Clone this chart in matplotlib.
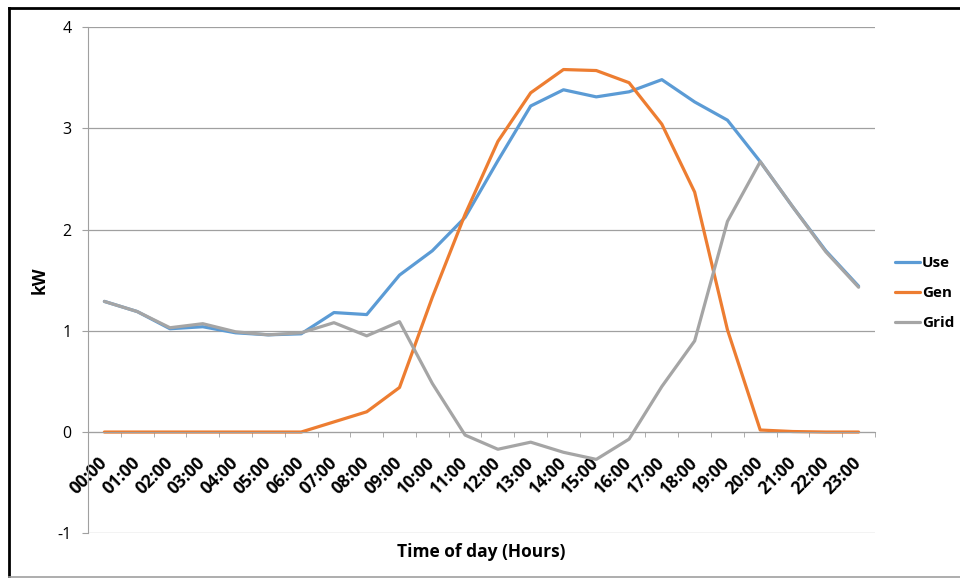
import matplotlib
matplotlib.use("Agg")
from matplotlib import pyplot as plt
from matplotlib.lines import Line2D
from matplotlib import transforms

plt.rcParams['font.family'] = ['Open Sans', 'DejaVu Sans']
plt.rcParams['axes.unicode_minus'] = False

hours = ["%02d:00" % h for h in range(24)]
use = [1.29, 1.19, 1.02, 1.04, 0.98, 0.96, 0.97, 1.18, 1.16, 1.55, 1.79, 2.12,
       2.68, 3.22, 3.38, 3.31, 3.36, 3.48, 3.26, 3.08, 2.67, 2.22, 1.79, 1.44]
gen = [0, 0, 0, 0, 0, 0, 0, 0.10, 0.20, 0.44, 1.33, 2.15,
       2.87, 3.35, 3.58, 3.57, 3.45, 3.04, 2.37, 1.01, 0.02, 0.005, 0, 0]
grid = [1.29, 1.19, 1.03, 1.07, 0.99, 0.96, 0.98, 1.08, 0.95, 1.09, 0.48, -0.03,
        -0.17, -0.10, -0.20, -0.27, -0.07, 0.45, 0.90, 2.08, 2.67, 2.22, 1.78, 1.43]

fig = plt.figure(figsize=(9.6, 5.78), dpi=100)
ax = fig.add_axes([88/960, 1-533.3/578, (875-88)/960, (533.3-27)/578])

x = list(range(24))
ax.plot(x, use, color='#5B9BD5', lw=2.3, label='Use', solid_capstyle='round')
ax.plot(x, gen, color='#ED7D31', lw=2.3, label='Gen', solid_capstyle='round')
ax.plot(x, grid, color='#A5A5A5', lw=2.3, label='Grid', solid_capstyle='round')

ax.set_xlim(-0.5, 23.5)
ax.set_ylim(-1, 4)
ax.set_yticks([-1, 0, 1, 2, 3, 4])
ax.yaxis.grid(True, color='#A0A0A0', lw=0.9)
ax.set_axisbelow(True)

for s in ['top', 'right']:
    ax.spines[s].set_visible(False)
ax.spines['left'].set_color('#A0A0A0')
ax.spines['bottom'].set_color('#A0A0A0')
ax.spines['bottom'].set_position(('data', 0))

ax.set_xticks(x)
ax.set_xticklabels(hours, rotation=45, ha='right', va='center',
                   rotation_mode='anchor', fontweight='bold', fontsize=12.5)
shift = transforms.ScaledTranslation(3/100, 0, fig.dpi_scale_trans)
for lbl in ax.get_xticklabels():
    lbl.set_transform(lbl.get_transform() + shift)
ax.set_xticks([i - 0.5 for i in range(25)], minor=True)
ax.tick_params(axis='x', which='major', length=0, pad=20)
ax.tick_params(axis='x', which='minor', length=3.5, color='#A0A0A0', direction='out')
ax.tick_params(axis='y', length=4, color='#A0A0A0', labelsize=11.5, pad=8)

ax.set_xlabel('Time of day (Hours)', fontweight='bold', fontsize=12.5)
ax.xaxis.set_label_coords(0.5, -0.02)
ax.set_ylabel('kW', fontweight='bold', fontsize=12.5)
ax.yaxis.set_label_coords(-0.05, 0.5)

ax.legend(loc='center left', bbox_to_anchor=(895/960, 1-293/578),
          bbox_transform=fig.transFigure, frameon=False, handlelength=1.65,
          handletextpad=0.1, labelspacing=1.05, borderpad=0, borderaxespad=0,
          prop={'weight': 'bold', 'size': 11})

# chart border
fig.add_artist(Line2D([9/960, 1.0], [1-8/578, 1-8/578], color='black', lw=2, transform=fig.transFigure))
fig.add_artist(Line2D([9/960, 9/960], [1-8/578, 1/578], color='black', lw=2, transform=fig.transFigure))
fig.add_artist(Line2D([9/960, 1.0], [1.2/578, 1.2/578], color='#A0A0A0', lw=1.2, transform=fig.transFigure))

fig.savefig("out.png", dpi=100)
